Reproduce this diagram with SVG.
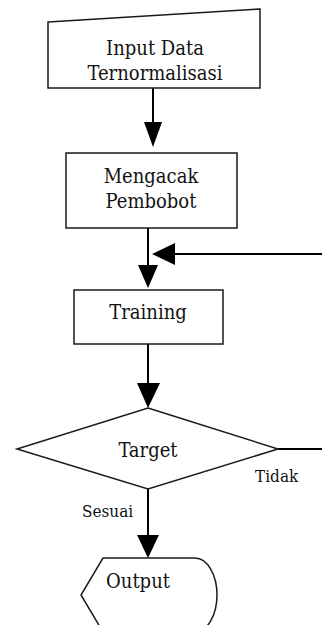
<svg xmlns="http://www.w3.org/2000/svg" width="322" height="625" viewBox="0 0 322 625">
<style>
.s{fill:#fff;stroke:#1a1a1a;stroke-width:1.5}
.c{fill:none;stroke:#000;stroke-width:2}
.t{font-family:'DejaVu Serif Condensed','DejaVu Serif',serif;font-stretch:condensed;font-size:20px;fill:#111;text-anchor:middle}
.l{font-family:'DejaVu Serif Condensed','DejaVu Serif',serif;font-stretch:condensed;font-size:17px;fill:#111}
</style>
<rect width="322" height="625" fill="#fff"/>
<g id="connectors">
<line class="c" x1="153" y1="88" x2="153" y2="124"/>
<path d="M144,122 L162,122 L153,147 Z" fill="#000"/>
<line class="c" x1="148" y1="228" x2="148" y2="266"/>
<path d="M138,265 L158,265 L148,288 Z" fill="#000"/>
<line class="c" x1="322" y1="254" x2="172" y2="254"/>
<path d="M175,243 L175,265 L152,254 Z" fill="#000"/>
<line class="c" x1="148" y1="344" x2="148" y2="385"/>
<path d="M137,383 L160,383 L148,408 Z" fill="#000"/>
<line class="c" x1="278" y1="449" x2="322" y2="449"/>
<line class="c" x1="148" y1="489" x2="148" y2="537"/>
<path d="M137,535 L159,535 L148,558 Z" fill="#000"/>
<text class="l" x="255" y="482">Tidak</text>
<text class="l" x="82" y="517">Sesuai</text>
</g>
<g id="input">
<path class="s" d="M48,22 L260,9 L260,88 L48,88 Z"/>
<text class="t" x="155" y="55">Input Data</text>
<text class="t" x="155" y="80">Ternormalisasi</text>
</g>
<g id="mengacak">
<rect class="s" x="66" y="153" width="171" height="75"/>
<text class="t" x="151" y="183">Mengacak</text>
<text class="t" x="151" y="208">Pembobot</text>
</g>
<g id="training">
<rect class="s" x="74" y="290" width="149" height="54"/>
<text class="t" x="148" y="319">Training</text>
</g>
<g id="target">
<path class="s" d="M148,408 L278,449 L148,489 L17,449 Z"/>
<text class="t" x="148" y="457">Target</text>
</g>
<g id="output">
<path class="s" d="M103,558 L195,558 A22,37 0 0 1 195,632 L103,632 L81,595 Z"/>
<text class="t" x="138" y="588">Output</text>
</g>
</svg>
